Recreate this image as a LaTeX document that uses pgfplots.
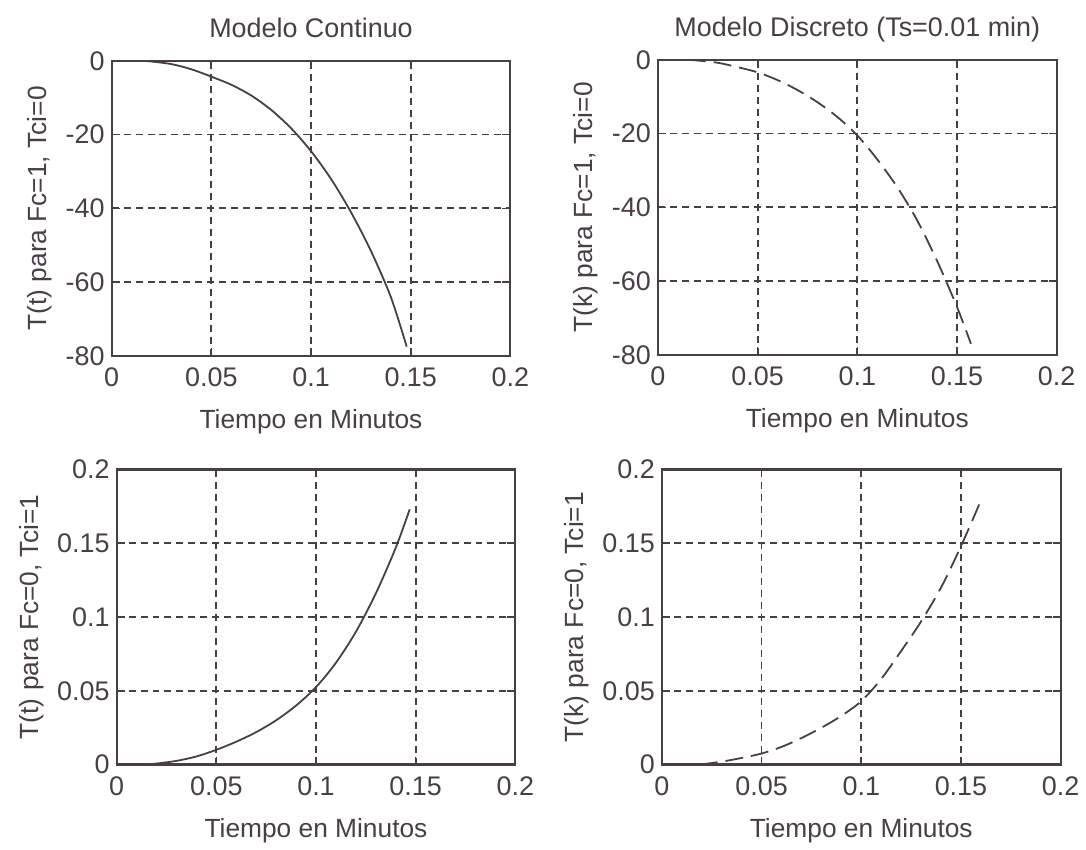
\documentclass[border=0pt]{standalone}
\usepackage{pgfplots}
\pgfplotsset{compat=1.18}
\usepackage{fontspec}
\setmainfont{Liberation Sans}
\definecolor{ink}{RGB}{72,62,70}
\pgfplotsset{
  myax/.style={
    scale only axis, width=200pt, height=148pt,
    xmin=0, xmax=0.2,
    xtick={0,0.05,0.1,0.15,0.2},
    xticklabels={0,0.05,0.1,0.15,0.2},
    axis line style={ink, line width=1.1pt},
    grid=major,
    major grid style={ink, line width=0.9pt, dash pattern=on 3.5pt off 2.5pt},
    tick align=inside, major tick length=4pt,
    tick style={ink, line width=0.8pt},
    ticklabel style={font=\fontsize{13.5}{16}\selectfont, text=ink},
    xticklabel style={yshift=-2.5pt},
    label style={font=\fontsize{13.2}{16}\selectfont, text=ink},
    title style={font=\fontsize{13.5}{16}\selectfont, text=ink, text height=10pt, text depth=3.5pt, yshift=-1.5pt},
    /pgf/number format/assume math mode=true,
    xlabel={Tiempo en Minutos},
    xlabel style={yshift=-4.5pt},
    anchor=south west,
  },
  cont/.style={ink, line width=0.9pt, smooth, no marks},
  disc/.style={ink, line width=0.9pt, smooth, no marks, dash pattern=on 9pt off 4pt},
}
\begin{document}
\begin{tikzpicture}
\path (0,0) rectangle (543pt,422pt);
% top-left
\begin{axis}[myax, at={(56pt,243.5pt)},
  ymin=-80, ymax=0, ytick={-80,-60,-40,-20,0}, yticklabels={-80,-60,-40,-20,0},
  title={Modelo Continuo},
  ylabel={T(t) para Fc=1, Tci=0}]
\addplot[cont] coordinates {
(0.015,0) (0.02,-0.2) (0.03,-0.9) (0.04,-2.3) (0.05,-4.3) (0.06,-6.5) (0.07,-9.4)
(0.08,-13.3) (0.09,-18.3) (0.1,-24.5) (0.11,-32) (0.12,-41) (0.13,-51.5) (0.14,-64) (0.148,-77.5)};
\end{axis}
% top-right
\begin{axis}[myax, at={(330pt,244pt)},
  ymin=-80, ymax=0, ytick={-80,-60,-40,-20,0}, yticklabels={-80,-60,-40,-20,0},
  title={Modelo Discreto (Ts=0.01 min)},
  ylabel={T(k) para Fc=1, Tci=0}]
\addplot[disc] coordinates {
(0.015,0) (0.02,-0.2) (0.03,-0.8) (0.04,-2) (0.05,-3.4) (0.06,-5.5) (0.07,-8.2)
(0.08,-11.5) (0.09,-15.5) (0.1,-20.5) (0.11,-27) (0.12,-34.5) (0.13,-43.5) (0.14,-54.5) (0.15,-67) (0.157,-77)};
\end{axis}
% bottom-left
\begin{axis}[myax, at={(58.5pt,38.5pt)},
  ymin=0, ymax=0.2, ytick={0,0.05,0.1,0.15,0.2}, yticklabels={0,0.05,0.1,0.15,0.2},
  ylabel={T(t) para Fc=0, Tci=1}]
\addplot[cont] coordinates {
(0.015,0) (0.02,0.0007) (0.03,0.0025) (0.04,0.0055) (0.05,0.0100) (0.06,0.0155) (0.07,0.022)
(0.08,0.030) (0.09,0.040) (0.1,0.0525) (0.11,0.069) (0.12,0.090) (0.13,0.116) (0.14,0.147) (0.147,0.173)};
\end{axis}
% bottom-right
\begin{axis}[myax, at={(332pt,38.5pt)},
  ymin=0, ymax=0.2, ytick={0,0.05,0.1,0.15,0.2}, yticklabels={0,0.05,0.1,0.15,0.2},
  ylabel={T(k) para Fc=0, Tci=1}]
\addplot[disc] coordinates {
(0.019,0) (0.03,0.002) (0.04,0.0045) (0.05,0.0075) (0.06,0.012) (0.07,0.018) (0.08,0.025)
(0.09,0.033) (0.1,0.043) (0.11,0.058) (0.12,0.077) (0.13,0.097) (0.14,0.12) (0.15,0.148) (0.16,0.179)};
\end{axis}
\end{tikzpicture}
\end{document}
